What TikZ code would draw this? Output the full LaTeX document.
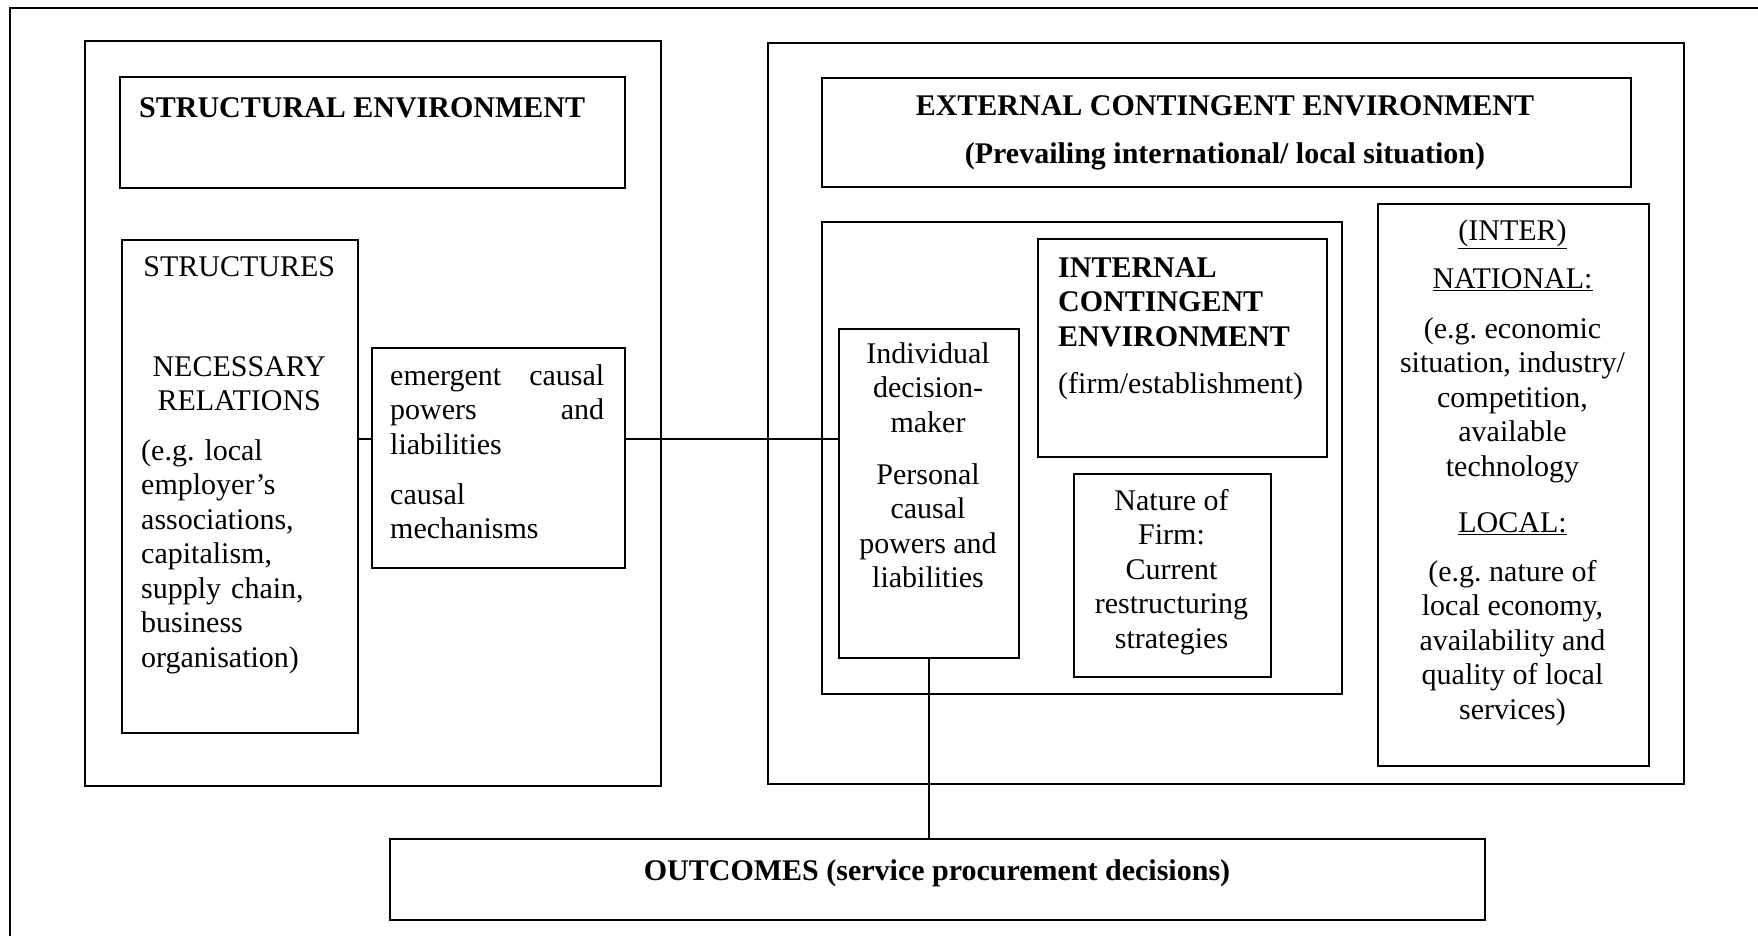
\documentclass[tikz,border=0pt]{standalone}
\usepackage{fontspec}
\setmainfont{Liberation Serif}
\usetikzlibrary{positioning,calc}
\frenchspacing

\tikzset{
  box/.style={draw, line width=1.8pt, anchor=north west, inner sep=0pt},
  txt/.style={inner sep=0pt, font=\fontsize{30}{34.5}\selectfont},
  link/.style={line width=1.8pt}
}

\begin{document}
\begin{tikzpicture}[x=1pt,y=-1pt]
	\useasboundingbox (0,0) rectangle (1758,936);
	% outer frame (cut at the right and bottom)
	\draw[line width=1.5pt] (10,936) -- (10,8) -- (1758,8);

	% structural side
	\node[box, minimum width=576, minimum height=745] (structframe) at (84,40) {};
	\node[box, minimum width=505, minimum height=111] (structenv) at (119,76) {};
	\node[box, minimum width=236, minimum height=493] (structures) at (121,239) {};
	\node[box, minimum width=253, minimum height=220] (emergent) at (371,347) {};
	\node[txt, anchor=north west, font=\fontsize{30}{34.5}\selectfont\bfseries] (structenv-t) at (139,92.85) {\strut STRUCTURAL ENVIRONMENT};
	\node[txt, anchor=north west, text width=196pt, align=left] (structures-t) at (141,251.85)
		{\strut\makebox[196pt]{STRUCTURES}\\[65.5pt]
		 \makebox[196pt]{NECESSARY}\\
		 \makebox[196pt]{RELATIONS}\\[15pt]
		 (e.g. local\\ employer’s\\ associations,\\ capitalism,\\ supply chain,\\ business\\ organisation)};
	\node[txt, anchor=north west, text width=214pt, align=left] (emergent-t) at (390,360.85)
		{\strut emergent\hfill causal\\ powers\hfill and\\ liabilities\\[15.5pt] causal\\ mechanisms};

	% contingent side
	\node[box, minimum width=916, minimum height=741] (extframe) at (767,42) {};
	\node[box, minimum width=809, minimum height=109] (extenv) at (821,77) {};
	\node[box, minimum width=520, minimum height=472] (firmframe) at (821,221) {};
	\node[box, minimum width=289, minimum height=218] (intenv) at (1037,238) {};
	\node[box, minimum width=180, minimum height=329] (indiv) at (838,328) {};
	\node[box, minimum width=197, minimum height=203] (nature) at (1073,473) {};
	\node[box, minimum width=271, minimum height=562] (inter) at (1377,203) {};
	\node[txt, anchor=north, align=center, font=\fontsize{30}{34.5}\selectfont\bfseries] (extenv-t) at (1225,90.85)
		{\strut EXTERNAL CONTINGENT ENVIRONMENT\\[13.5pt] (Prevailing international/ local situation)};
	\node[txt, anchor=north west, align=left] (intenv-t) at (1058,252.85)
		{\strut\bfseries INTERNAL\\ \bfseries CONTINGENT\\ \bfseries ENVIRONMENT\\[12.5pt] (firm/establishment)};
	\node[txt, anchor=north, align=center] (indiv-t) at (928,338.85)
		{\strut Individual\\ decision-\\ maker\\[17.5pt] Personal\\ causal\\ powers and\\ liabilities};
	\node[txt, anchor=north, align=center] (nature-t) at (1171.5,485.85)
		{\strut Nature of\\ Firm:\\ Current\\ restructuring\\ strategies};
	\node[txt, anchor=north, align=center] (inter-t) at (1512.5,215.85)
		{\strut\underline{(INTER)}\\[13.5pt] \underline{NATIONAL:}\\[15.5pt]
		 (e.g. economic\\ situation, industry/\\ competition,\\ available\\ technology\\[21.5pt]
		 \underline{LOCAL:}\\[14.5pt] (e.g. nature of\\ local economy,\\ availability and\\ quality of local\\ services)};

	% outcomes
	\node[box, minimum width=1095, minimum height=81] (outcomes) at (389,838) {};
	\node[txt, anchor=north, font=\fontsize{30}{34.5}\selectfont\bfseries] (outcomes-t) at (937,855.85)
		{\strut OUTCOMES (service procurement decisions)};

	% connectors
	\coordinate (lk) at (0,439);
	\draw[link] (structures.east |- lk) -- (emergent.west |- lk);
	\draw[link] (emergent.east |- lk) -- (indiv.west |- lk);
	\draw[link] (indiv.south) -- (indiv.south |- outcomes.north);
\end{tikzpicture}
\end{document}
